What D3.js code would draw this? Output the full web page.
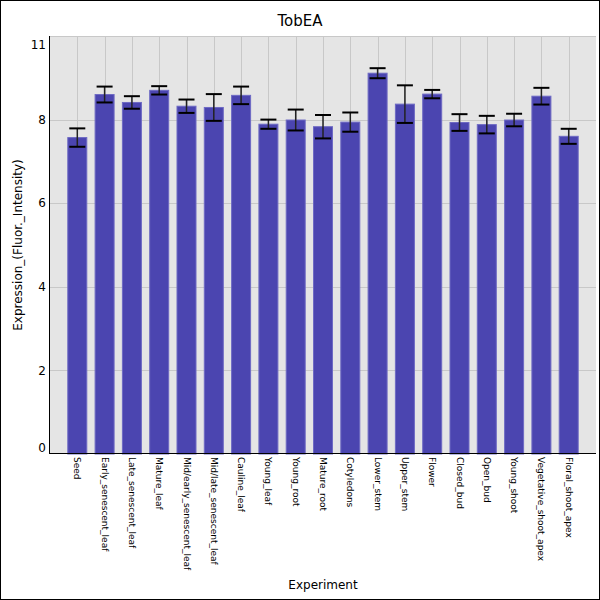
<!DOCTYPE html>
<html lang="en">
<head>
<meta charset="utf-8">
<script src="https://d3js.org/d3.v7.min.js"></script>
<style>
  body{ margin:0; background:#fff; }
  text{ font-family:"DejaVu Sans", sans-serif; fill:#000; }
</style>
</head>
<body>
<script>

// data
var experiments = ["Seed","Early_senescent_leaf","Late_senescent_leaf","Mature_leaf",
  "Mid/early_senescent_leaf","Mid/late_senescent_leaf","Cauline_leaf","Young_leaf",
  "Young_root","Mature_root","Cotyledons","Lower_stem","Upper_stem","Flower",
  "Closed_bud","Open_bud","Young_shoot","Vegetative_shoot_apex","Floral_shoot_apex"];
var means  = [7.57, 8.60, 8.41, 8.70, 8.32, 8.29, 8.58, 7.89, 7.99, 7.83, 7.94, 9.11, 8.37, 8.61, 7.93, 7.88, 7.99, 8.56, 7.60];
var errors = [0.22, 0.19, 0.15, 0.10, 0.16, 0.32, 0.21, 0.11, 0.25, 0.28, 0.23, 0.12, 0.45, 0.10, 0.20, 0.21, 0.15, 0.20, 0.18];
var gridTicks = [2, 4, 6, 8];
var tickLabels = ["0", "2", "4", "6", "8", "11"];
var tickValues = [0, 2, 4, 6, 8, 10];

var w = 600, h = 600;
var pLeft = 50, pRight = 596, pTop = 36, pBottom = 454;

var svg = d3.select("body").append("svg")
  .attr("width", w).attr("height", h);

svg.append("rect").attr("x",0.5).attr("y",0.5).attr("width",w-1).attr("height",h-1)
  .attr("fill","#fff").attr("stroke","#000");

var x = d3.scalePoint().domain(experiments).range([pLeft, pRight]).padding(1);
var y = d3.scaleLinear().domain([0, 10]).range([pBottom, pTop]);

// plot background
svg.append("rect").attr("x", pLeft).attr("y", pTop)
  .attr("width", pRight-pLeft).attr("height", pBottom-pTop)
  .attr("fill", "#e5e5e5");
svg.append("line").attr("x1",pLeft).attr("x2",pRight).attr("y1",pTop+0.5).attr("y2",pTop+0.5)
  .attr("stroke","#c8c8c8");

// grid lines
svg.selectAll(".hgrid").data(gridTicks).enter().append("line")
  .attr("x1", pLeft).attr("x2", pRight)
  .attr("y1", d => Math.round(y(d))+0.5).attr("y2", d => Math.round(y(d))+0.5)
  .attr("stroke", "#c8c8c8");
svg.selectAll(".vgrid").data(experiments).enter().append("line")
  .attr("x1", d => Math.round(x(d))+0.5).attr("x2", d => Math.round(x(d))+0.5)
  .attr("y1", pTop).attr("y2", pBottom)
  .attr("stroke", "#c8c8c8");

// bars
var bw = 20;
svg.selectAll(".bar").data(experiments).enter().append("rect")
  .attr("x", d => x(d)-bw/2+0.5)
  .attr("y", (d,i) => y(means[i]))
  .attr("width", bw-1)
  .attr("height", (d,i) => pBottom - y(means[i]))
  .attr("fill", "#4b45b0")
  .attr("stroke", "#6e6ac4").attr("stroke-width", 1);

// error bars
var cap = 8;
experiments.forEach(function(d, i){
  var cx = x(d), y1 = y(means[i]+errors[i]), y2 = y(means[i]-errors[i]);
  svg.append("line").attr("x1",cx).attr("x2",cx).attr("y1",y1).attr("y2",y2)
    .attr("stroke","#222").attr("stroke-width",1.5);
  [y1, y2].forEach(function(yy){
    svg.append("line").attr("x1",cx-cap).attr("x2",cx+cap).attr("y1",yy).attr("y2",yy)
      .attr("stroke","#000").attr("stroke-width",2);
  });
});

// axes lines
svg.append("line").attr("x1",pLeft-0.5).attr("x2",pLeft-0.5).attr("y1",pTop).attr("y2",pBottom)
  .attr("stroke","#000");
svg.append("line").attr("x1",pLeft).attr("x2",pRight).attr("y1",pBottom-0.5).attr("y2",pBottom-0.5)
  .attr("stroke","#000");

// y tick labels (end labels nudged inside, as in the reference)
svg.selectAll(".ytick").data(tickValues).enter().append("text")
  .attr("x", pLeft-4)
  .attr("y", function(d){
    var p = y(d);
    if (d === 0) p -= 6;
    if (d === 10) p += 9;
    return p;
  })
  .attr("dy", "0.35em")
  .attr("text-anchor", "end")
  .attr("font-size", "12px")
  .text((d,i) => tickLabels[i]);

// x tick labels, rotated
svg.selectAll(".xtick").data(experiments).enter().append("text")
  .attr("transform", d => "translate(" + (x(d)-3) + "," + (pBottom+3) + ") rotate(90)")
  .attr("font-size", "9px")
  .attr("text-anchor", "start")
  .text(d => d);

// titles
svg.append("text").attr("x", 300).attr("y", 26).attr("text-anchor","middle")
  .attr("font-size","15px").text("TobEA");
svg.append("text").attr("x", (pLeft+pRight)/2).attr("y", 589).attr("text-anchor","middle")
  .attr("font-size","12px").text("Experiment");
svg.append("text").attr("transform","translate(22," + ((pTop+pBottom)/2) + ") rotate(-90)")
  .attr("text-anchor","middle").attr("font-size","12px")
  .text("Expression_(Fluor._Intensity)");

</script>
</body>
</html>
